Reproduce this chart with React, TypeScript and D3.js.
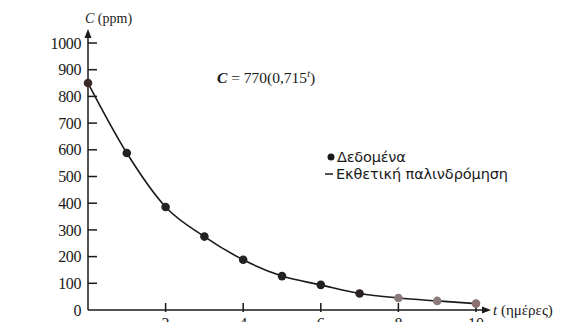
import React from "react";
import * as d3 from "d3";

const days = [0, 1, 2, 3, 4, 5, 6, 7, 8, 9, 10];
const concentration = [850, 588, 386, 275, 188, 127, 94, 62, 45, 34, 24];
const yTicks = [0, 100, 200, 300, 400, 500, 600, 700, 800, 900, 1000];
const xTicks = [2, 4, 6, 8, 10];
const pointColors = ["#3a2a2a", "#222", "#222", "#222", "#222", "#222", "#222", "#2a2222", "#8a7a7a", "#8a7a7a", "#8a7070"];

const W = 565, H = 322;

export default function App() {
  const x = d3.scaleLinear().domain([0, 10]).range([88, 476]);
  const y = d3.scaleLinear().domain([0, 1000]).range([310, 43]);
  const line = d3
    .line<number>()
    .x((_, i) => x(days[i]))
    .y((d) => y(d))
    .curve(d3.curveMonotoneX);
  const serif = "'Liberation Serif', 'Times New Roman', serif";
  const ink = "#1a1a1a";
  return (
    <svg
      width={W}
      height={H}
      style={{ position: "absolute", left: 0, top: 0, background: "#fff" }}
      fontFamily={serif}
    >
      {/* y axis */}
      <line x1={x(0)} y1={y(0)} x2={x(0)} y2={36} stroke={ink} strokeWidth={1.5} />
      <path d={`M${x(0) - 3.5},${38} L${x(0)},${29} L${x(0) + 3.5},${38} Z`} fill={ink} />
      {yTicks.filter((t) => t > 0).map((t) => (
        <line key={t} x1={x(0)} x2={x(0) + 9} y1={y(t)} y2={y(t)} stroke={ink} strokeWidth={1.5} />
      ))}
      {yTicks.map((t) => (
        <text key={"l" + t} x={81} y={y(t)} dy="0.35em" textAnchor="end" fontSize={16} fill={ink} letterSpacing={-0.4}>
          {t}
        </text>
      ))}
      <text x={85} y={23} fontSize={14} fill={ink}>
        <tspan fontStyle="italic">C</tspan> (ppm)
      </text>
      {/* x axis */}
      <line x1={x(0)} y1={y(0)} x2={484} y2={y(0)} stroke={ink} strokeWidth={1.5} />
      <path d={`M${482},${y(0) - 3.5} L${491},${y(0)} L${482},${y(0) + 3.5} Z`} fill={ink} />
      {xTicks.map((t) => (
        <line key={t} x1={x(t)} x2={x(t)} y1={y(0) - 7} y2={y(0) + 2} stroke={ink} strokeWidth={1.5} />
      ))}
      {xTicks.map((t) => (
        <text key={"x" + t} x={x(t)} y={329} textAnchor="middle" fontSize={16} fill={ink}>
          {t}
        </text>
      ))}
      <text x={493} y={y(0)} dy="0.35em" fontSize={15} fill={ink}>
        <tspan fontStyle="italic">t</tspan> (ημέρες)
      </text>
      {/* curve */}
      <path d={line(concentration) || ""} fill="none" stroke={ink} strokeWidth={1.6} />
      {concentration.map((c, i) => (
        <circle key={i} cx={x(days[i])} cy={y(c)} r={4.3} fill={pointColors[i]} />
      ))}
      {/* equation */}
      <text x={217} y={83} fontSize={15.5} fill={ink}>
        <tspan fontStyle="italic" fontWeight="bold">C</tspan>
        <tspan> = 770(0,715</tspan>
        <tspan fontStyle="italic" fontSize={10} dy={-6}>t</tspan>
        <tspan dy={6}>)</tspan>
      </text>
      {/* legend */}
      <circle cx={331} cy={157} r={3.5} fill={ink} />
      <text x={337} y={162} fontSize={14.5} fill={ink} fontFamily="'DejaVu Sans', sans-serif" letterSpacing={-0.2}>
        Δεδομένα
      </text>
      <line x1={325} x2={333} y1={174} y2={174} stroke={ink} strokeWidth={1.5} />
      <text x={336} y={179} fontSize={14.5} fill={ink} fontFamily="'DejaVu Sans', sans-serif" letterSpacing={-0.1}>
        Εκθετική παλινδρόμηση
      </text>
    </svg>
  );
}
